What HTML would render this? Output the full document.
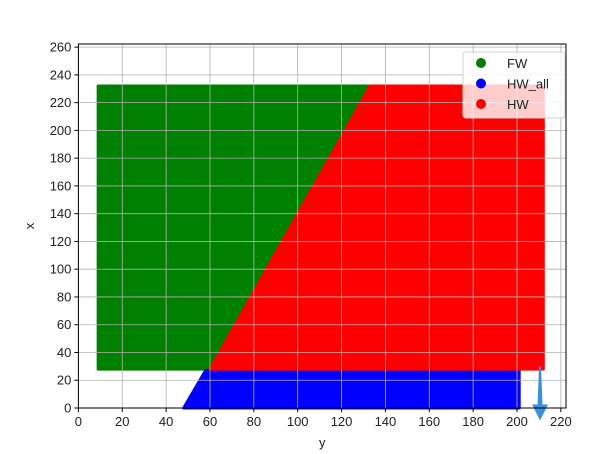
<!DOCTYPE html>
<html><head><meta charset="utf-8"><style>
body{margin:0;background:#fff;}
svg{display:block;font-family:"Liberation Sans","DejaVu Sans",sans-serif;}
</style></head><body>
<svg id="chart" width="610" height="454" viewBox="0 0 610 454"></svg>
<script>
const xTicks=[0,20,40,60,80,100,120,140,160,180,200,220];
const yTicks=[0,20,40,60,80,100,120,140,160,180,200,220,240,260];
const fwPoly=[[9,28],[9,232],[133,232],[60,28]];
const hwPoly=[[60,28],[133,232],[212,232],[212,28]];
const hwAllPoly=[[48,0],[58,27],[201,27],[201,0]];
const arrowX=210.5, arrowY0=30, arrowY1=-9;
const seriesNames=["FW","HW_all","HW"];
const seriesColors=["#008000","#0000ff","#ff0000"];

const L=78.4,R=566,T=44,B=408;
const xmin=0,xpx=2.193,ypx=1.388;
const sx=v=>L+(v-xmin)*xpx;
const sy=v=>B-v*ypx;
const svg=document.getElementById('chart');
const NS='http://www.w3.org/2000/svg';
function mk(t,a,p){const e=document.createElementNS(NS,t);for(const k in a)e.setAttribute(k,a[k]);(p||svg).appendChild(e);return e;}

function poly(pts,color,name){const p=mk('polygon',{points:pts.map(q=>sx(q[0])+','+sy(q[1])).join(' '),fill:color,stroke:color,'stroke-width':3,'stroke-linejoin':'round'});

}
poly(fwPoly,seriesColors[0],'fw-region');
poly(hwAllPoly,seriesColors[1],'hw-all-region');
poly(hwPoly,seriesColors[2],'hw-region');

// grid (on top, as in reference)
xTicks.forEach(v=>{const g=mk('line',{x1:sx(v),x2:sx(v),y1:T,y2:B,stroke:'#b0b0b0','stroke-width':0.8});

});
yTicks.forEach(v=>{const g=mk('line',{x1:L,x2:R,y1:sy(v),y2:sy(v),stroke:'#b0b0b0','stroke-width':0.8});

});

// arrow
const ax=sx(arrowX);
const hy=sy(arrowY1)-16;
const sh=mk('polygon',{points:`${ax-1},${sy(arrowY0)} ${ax+1},${sy(arrowY0)} ${ax+2.5},${hy} ${ax-2.5},${hy}`,fill:'#3b8fe0'});


const hd=mk('polygon',{points:`${ax-8},${hy} ${ax+8},${hy} ${ax},${sy(arrowY1)}`,fill:'#3b8fe0'});



// frame
const fr=mk('rect',{x:L,y:T,width:R-L,height:B-T,fill:'none',stroke:'#000','stroke-width':1});



xTicks.forEach(v=>{mk('line',{x1:sx(v),x2:sx(v),y1:B,y2:B+4,stroke:'#000'});
const t=mk('text',{x:sx(v),y:B+18,'text-anchor':'middle','font-size':13,fill:'#222'});t.textContent=v;

});
yTicks.forEach(v=>{mk('line',{x1:L-4,x2:L,y1:sy(v),y2:sy(v),stroke:'#000'});
const t=mk('text',{x:L-7,y:sy(v)+4.5,'text-anchor':'end','font-size':13,fill:'#222'});t.textContent=v;

});

const xl=mk('text',{x:(L+R)/2,y:447,'text-anchor':'middle','font-size':13,fill:'#222'});xl.textContent='y';


const yl=mk('text',{x:34,y:226,'text-anchor':'middle','font-size':13,fill:'#222',transform:'rotate(-90 34 226)'});yl.textContent='x';



// legend
const lg=mk('g',{});


mk('rect',{x:463,y:52,width:102,height:66,rx:3,fill:'rgba(255,255,255,0.8)',stroke:'#d0d0d0'},lg);
seriesNames.forEach((n,i)=>{const y=63+i*20.5;
const c=mk('circle',{cx:481,cy:y,r:5,fill:seriesColors[i]},lg);


const t=mk('text',{x:507,y:y+5,'font-size':13,fill:'#222'},lg);t.textContent=n;

});
</script>
</body></html>
